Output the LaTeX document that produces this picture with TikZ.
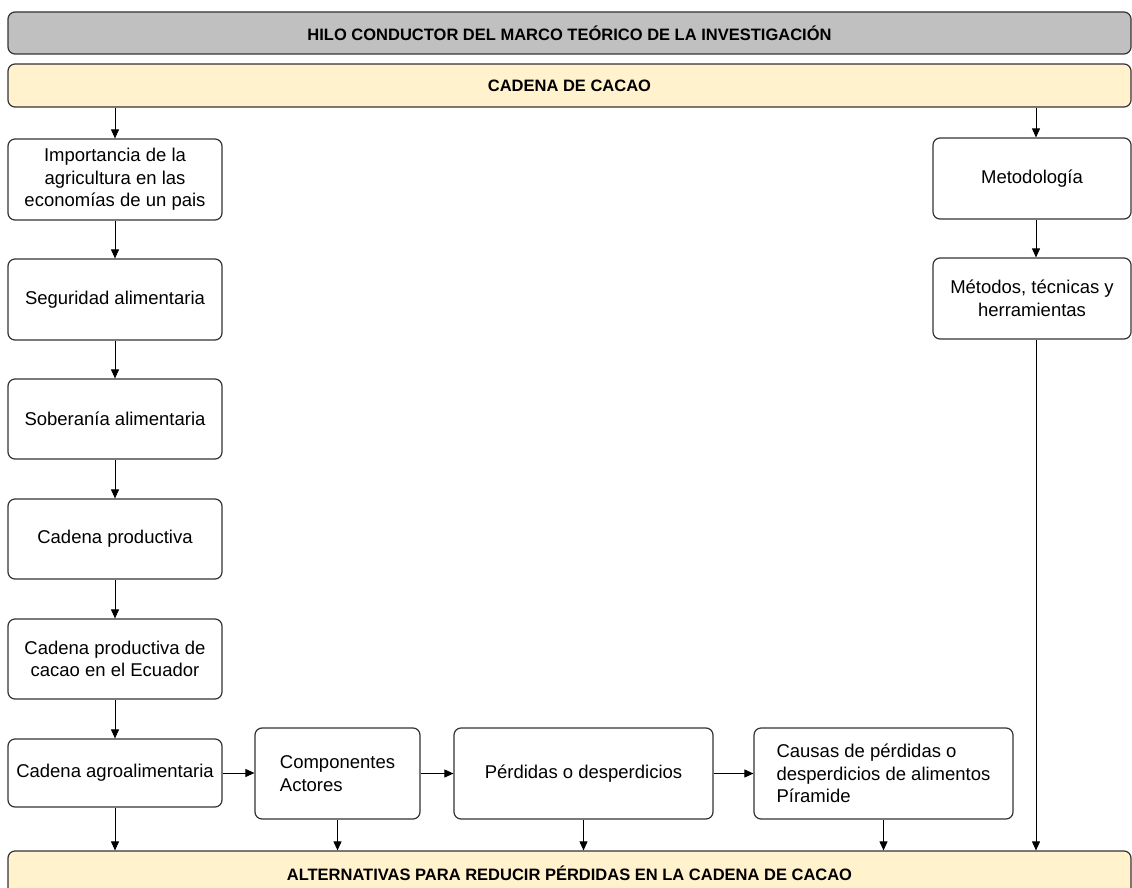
\documentclass[tikz,border=0pt]{standalone}
\usepackage{fontspec}
\setmainfont{Liberation Sans}
\usetikzlibrary{arrows.meta}
\definecolor{headgray}{HTML}{C0C0C0}
\definecolor{cream}{HTML}{FFF2CC}
\definecolor{edge}{HTML}{333333}
\begin{document}
\begin{tikzpicture}[x=1pt,y=-1pt,
  font=\fontsize{18.5}{22.5}\selectfont,
  box/.style={draw=edge, line width=1.2pt, rounded corners=7pt, fill=white,
    align=center, inner sep=2pt},
  lbox/.style={box, align=left},
  band/.style={draw=edge, line width=1.2pt, rounded corners=7pt,
    minimum width=1123pt, font=\fontsize{16.5}{19.5}\selectfont\bfseries},
  arr/.style={draw=black, line width=0.9pt, -{Triangle[length=9pt,width=8pt]}},
  plain/.style={draw=black, line width=0.9pt}]
\useasboundingbox (0,0) rectangle (1132,888);
\clip (0,0) rectangle (1132,888);

% header bands
\node[band, fill=headgray, minimum height=42pt] (title) at (569.5,33)
  {HILO CONDUCTOR DEL MARCO TEÓRICO DE LA INVESTIGACIÓN};
\node[band, fill=cream, minimum height=43pt] (cadena) at (569.5,85.5)
  {CADENA DE CACAO};
\node[band, fill=cream, minimum height=44pt] (alt) at (569.5,873)
  {ALTERNATIVAS PARA REDUCIR PÉRDIDAS EN LA CADENA DE CACAO};

% left column
\node[box, minimum width=214pt, minimum height=81pt] (imp) at (115,179.5)
  {Importancia de la\\agricultura en las\\economías de un pais};
\node[box, minimum width=214pt, minimum height=81pt] (seg) at (115,299.5)
  {Seguridad alimentaria};
\node[box, minimum width=214pt, minimum height=80pt] (sob) at (115,419)
  {Soberanía alimentaria};
\node[box, minimum width=214pt, minimum height=80pt] (cprod) at (115,539)
  {Cadena productiva};
\node[box, minimum width=214pt, minimum height=80pt] (cec) at (115,659)
  {Cadena productiva de\\cacao en el Ecuador};
\node[box, minimum width=214pt, minimum height=68pt] (agro) at (115,773)
  {Cadena agroalimentaria};

% bottom row
\node[lbox, minimum width=165pt, minimum height=91pt] (comp) at (337.5,773.5)
  {Componentes\\Actores};
\node[box, minimum width=259pt, minimum height=91pt] (perd) at (583.5,773.5)
  {Pérdidas o desperdicios};
\node[lbox, minimum width=259pt, minimum height=91pt] (causas) at (883.5,773.5)
  {Causas de pérdidas o\\desperdicios de alimentos\\Píramide};

% right column
\node[box, minimum width=198pt, minimum height=81pt] (met) at (1032,178.5)
  {Metodología};
\node[box, minimum width=198pt, minimum height=81pt] (mth) at (1032,298.5)
  {Métodos, técnicas y\\herramientas};
\coordinate (colR) at (1036,0);

% vertical flow, left column
\draw[arr] (cadena.south -| imp.north) -- (imp.north);
\draw[arr] (imp.south) -- (seg.north);
\draw[arr] (seg.south) -- (sob.north);
\draw[arr] (sob.south) -- (cprod.north);
\draw[arr] (cprod.south) -- (cec.north);
\draw[arr] (cec.south) -- (agro.north);

% horizontal flow
\draw[arr] (agro.east) -- (agro.east -| comp.west);
\draw[arr] (comp.east) -- (perd.west);
\draw[arr] (perd.east) -- (causas.west);

% into the closing band
\draw[arr] (agro.south) -- (agro.south |- alt.north);
\draw[arr] (comp.south) -- (comp.south |- alt.north);
\draw[arr] (perd.south) -- (perd.south |- alt.north);
\draw[arr] (causas.south) -- (causas.south |- alt.north);

% right column flow
\draw[arr] (cadena.south -| colR) -- (met.north -| colR);
\draw[arr] (met.south -| colR) -- (mth.north -| colR);
\draw[arr] (mth.south -| colR) -- (alt.north -| colR);
\end{tikzpicture}
\end{document}
